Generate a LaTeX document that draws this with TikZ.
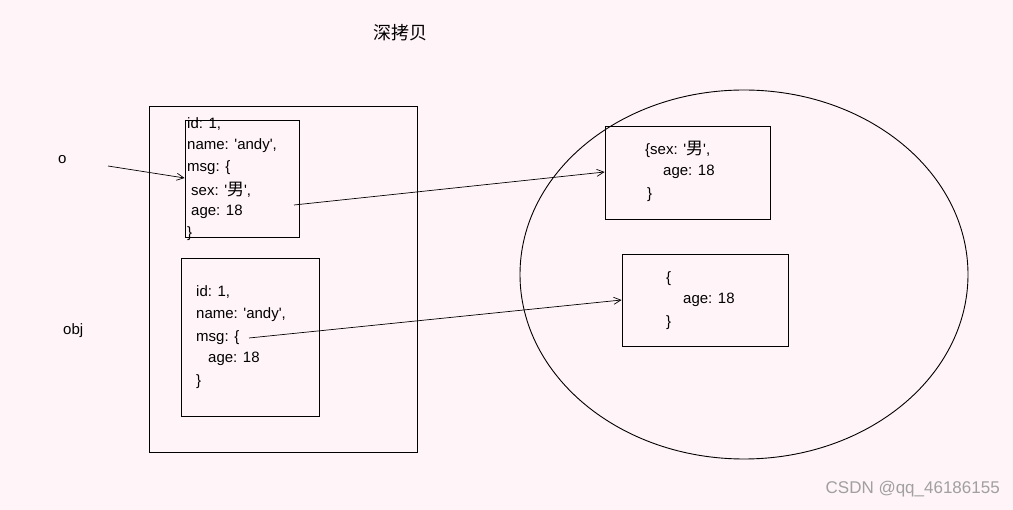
\documentclass[tikz,border=0pt]{standalone}
\usepackage{fontspec}
\setmainfont{Liberation Sans}
\newfontfamily\cjk{Noto Sans CJK SC}
\usetikzlibrary{arrows.meta}
\newcommand{\q}{\textquotesingle}
\begin{document}
\begin{tikzpicture}[x=1pt,y=-1pt,
  txt/.style={anchor=west,inner sep=0pt,font=\fontsize{15}{17}\selectfont},
  box/.style={draw,line width=0.9pt},
  arr/.style={-{Straight Barb[length=7pt,width=7pt]},line width=0.7pt}]
\fill[fill={rgb,255:red,255;green,244;blue,247}] (0,0) rectangle (1013,510);
\useasboundingbox (0,0) rectangle (1013,510);
\node[inner sep=0pt,font=\cjk\fontsize{18}{20}\selectfont] (title) at (400,33) {深拷贝};
\node[txt] (o) at (58,160) {o};
\node[txt] (obj) at (63,331) {obj};
\draw[box] (149,106) rectangle (417,452);
\node[box,minimum width=114pt,minimum height=117pt,inner sep=0pt] (b1) at (242,178.5) {};
\node[box,minimum width=138pt,minimum height=158pt,inner sep=0pt] (b2) at (250,337) {};
\node[box,minimum width=165pt,minimum height=93pt,inner sep=0pt] (b3) at (687.5,172.5) {};
\node[box,minimum width=166pt,minimum height=92pt,inner sep=0pt] (b4) at (705,300) {};
\draw[box] (744,274.5) ellipse [x radius=224, y radius=184.5];
\node[txt] at (187,124) {id: 1,};
\node[txt] at (187,146) {name: \q andy\q,};
\node[txt] at (187,168) {msg: \{};
\node[txt] at (191,190) {sex: \q{\cjk\fontsize{17}{17}\selectfont 男}\q,};
\node[txt] at (191,212) {age: 18};
\node[txt] at (187,234) {\}};
\node[txt] at (196,292) {id: 1,};
\node[txt] at (196,315) {name: \q andy\q,};
\node[txt] at (196,338) {msg: \{};
\node[txt] at (208,359) {age: 18};
\node[txt] at (196,382) {\}};
\node[txt] at (645,149) {\{sex: \q{\cjk\fontsize{17}{17}\selectfont 男}\q,};
\node[txt] at (663,172) {age: 18};
\node[txt] at (647,195) {\}};
\node[txt] at (666,279) {\{};
\node[txt] at (683,300) {age: 18};
\node[txt] at (666,323) {\}};
\coordinate (os) at (108,166);
\coordinate (s1) at (294,205);
\coordinate (s2) at (249,338);
\draw[arr] (os) -- (b1.west |- 0,178);
\draw[arr] (s1) -- (b3.west |- 0,172);
\draw[arr] (s2) -- (b4.west |- 0,300);
\node[anchor=east,inner sep=0pt,text={rgb,255:red,160;green,160;blue,160},font=\fontsize{17}{19}\selectfont] (wm) at (1000,489) {CSDN @qq\_46186155};
\end{tikzpicture}
\end{document}
